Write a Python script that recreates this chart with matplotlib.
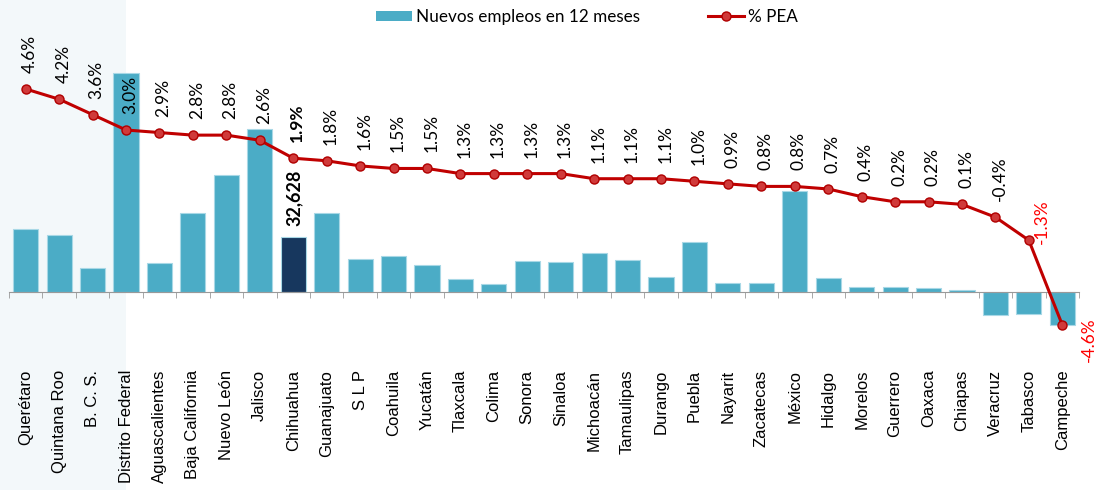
import numpy as np
import matplotlib.pyplot as plt
import matplotlib.transforms as mtransforms
from matplotlib.patches import Rectangle, Patch
from matplotlib.lines import Line2D

estados = ['Querétaro', 'Quintana Roo', 'B. C. S.', 'Distrito Federal', 'Aguascalientes',
           'Baja California', 'Nuevo León', 'Jalisco', 'Chihuahua', 'Guanajuato', 'S L P',
           'Coahuila', 'Yucatán', 'Tlaxcala', 'Colima', 'Sonora', 'Sinaloa', 'Michoacán',
           'Tamaulipas', 'Durango', 'Puebla', 'Nayarit', 'Zacatecas', 'México', 'Hidalgo',
           'Morelos', 'Guerrero', 'Oaxaca', 'Chiapas', 'Veracruz', 'Tabasco', 'Campeche']
empleos = [37400, 33800, 14200, 130000, 17200, 46900, 69400, 96700, 32628, 46900, 19600,
           21400, 16000, 7700, 4700, 18400, 17800, 23100, 19000, 8900, 29700, 5300, 5300,
           59900, 8300, 3000, 3000, 2400, 1200, -13600, -13000, -19600]
pea = [4.6, 4.2, 3.6, 3.0, 2.9, 2.8, 2.8, 2.6, 1.9, 1.8, 1.6, 1.5, 1.5, 1.3, 1.3, 1.3, 1.3,
       1.1, 1.1, 1.1, 1.0, 0.9, 0.8, 0.8, 0.7, 0.4, 0.2, 0.2, 0.1, -0.4, -1.3, -4.6]

W, H = 1097, 490
fig = plt.figure(figsize=(W / 100, H / 100), dpi=100)
ax = fig.add_axes([9 / W, 1 - 340 / H, 1070 / W, 300 / H])
ax.patch.set_visible(False)
x = np.arange(len(estados))

# franja sombreada de los primeros estados
shade = Rectangle((-2, 0), 5, 1, transform=mtransforms.blended_transform_factory(ax.transData, fig.transFigure),
                  facecolor='#f3f8fa', edgecolor='none', zorder=-1)
fig.add_artist(shade)

colores = ['#17375e' if e == 'Chihuahua' else '#4bacc6' for e in estados]
ax.bar(x, empleos, width=0.75, color=colores, edgecolor='#a8d8e6', linewidth=0.8, zorder=2)
ax.set_xlim(-0.5, len(estados) - 0.5)
ax.set_ylim(-28500, 149400)
for s in ['top', 'left', 'right']:
    ax.spines[s].set_visible(False)
ax.spines['bottom'].set_position(('data', 0))
ax.spines['bottom'].set_color('#999999')
ax.set_yticks([])
ax.set_xticks(x)
ax.set_xticklabels(estados, rotation=90, fontsize=12, family='Liberation Sans')
ax.set_xticks(np.arange(len(estados) + 1) - 0.5, minor=True)
ax.tick_params(axis='x', which='major', length=0, pad=56)
ax.tick_params(axis='x', which='minor', length=4, color='#999999')

i_chih = estados.index('Chihuahua')
ax.annotate(f'{empleos[i_chih]:,}', (i_chih, empleos[i_chih]), xytext=(1, 8), textcoords='offset points',
            rotation=90, ha='center', va='bottom', fontsize=13, fontweight='bold', family='Lato')

ax2 = ax.twinx()
ax2.plot(x, pea, color='#c00000', lw=2.2, marker='o', ms=6.5, mfc='#d03a3a', mec='#b00000', zorder=3)
ax2.set_ylim(-5.19, 6.51)
ax2.set_yticks([])
for s in ax2.spines.values():
    s.set_visible(False)

for i, v in enumerate(pea):
    txt = f'{v:.1f}%'
    if v < -1:
        if i == len(pea) - 1:
            off = (13.5, -11)
        else:
            off = (3.5, 13.5)
        ax2.annotate(txt, (i, v), xytext=off, textcoords='offset points', rotation=90,
                     ha='left', va='center', fontsize=12.5, color='#ff0000', family='Lato')
    else:
        ax2.annotate(txt, (i, v), xytext=(3, 11.5), textcoords='offset points', rotation=90,
                     ha='center', va='bottom', fontsize=12.5, family='Lato',
                     fontweight='bold' if i == i_chih else 'normal')

handles = [Patch(facecolor='#4bacc6', edgecolor='none'),
           Line2D([], [], color='#c00000', lw=2.2, marker='o', ms=6.5, mfc='#d03a3a', mec='#b00000')]
fig.legend(handles, ['Nuevos empleos en 12 meses', '% PEA'], loc='center', ncol=2,
           bbox_to_anchor=(587 / W, 1 - 17 / H), frameon=False, handlelength=2.1,
           handleheight=0.6, handletextpad=0.25, columnspacing=4.0, borderpad=0,
           prop={'family': 'Lato', 'size': 12.3})

fig.savefig('out.png', dpi=100)
